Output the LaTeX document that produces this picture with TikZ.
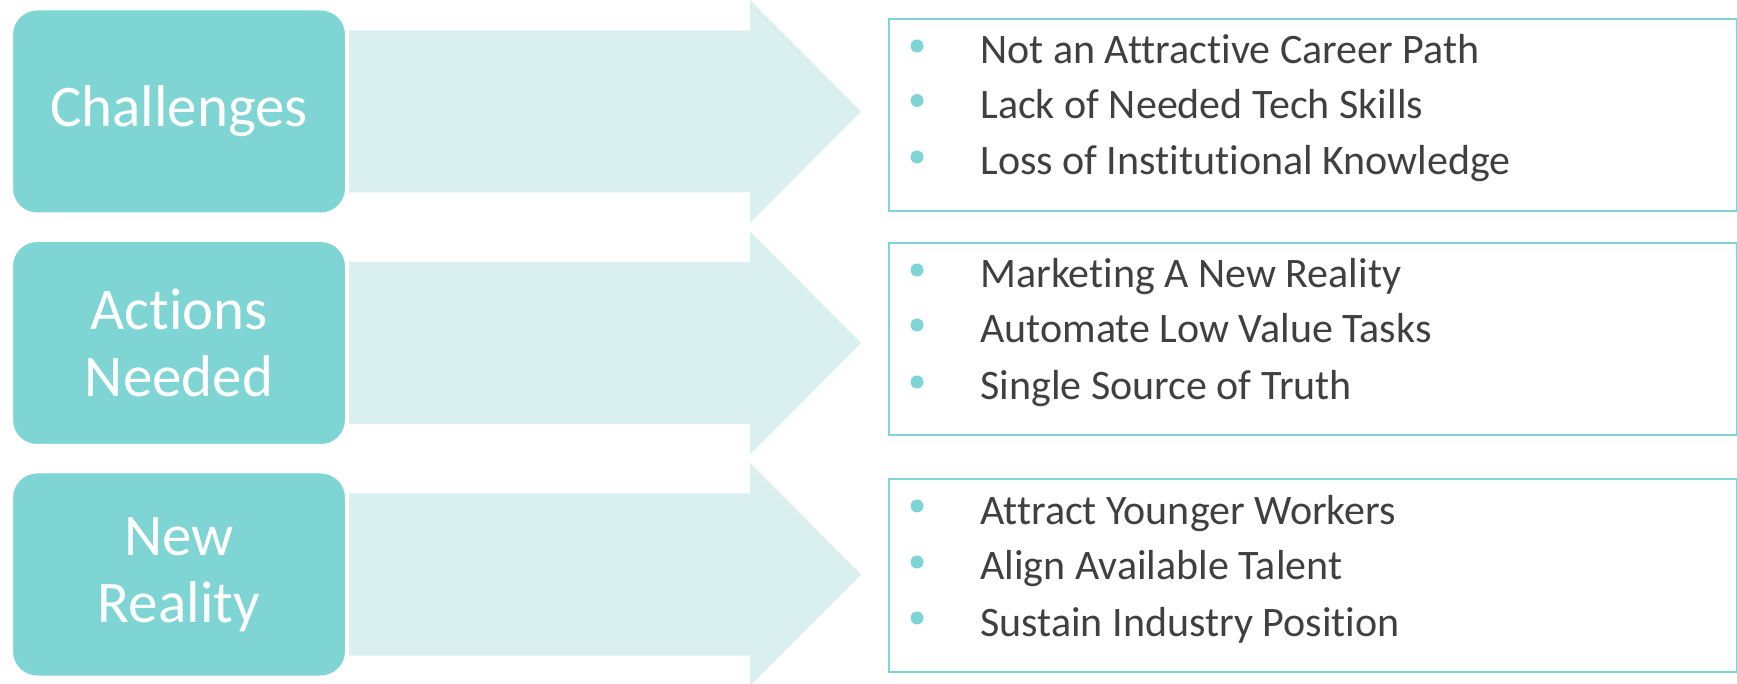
\documentclass[tikz,border=0pt]{standalone}
\usepackage{fontspec}
\setmainfont{Carlito}[RawFeature={-liga;-clig;-dlig;-rlig;-calt;-hlig}]
\definecolor{tealbox}{RGB}{127,212,212}
\definecolor{arrowfill}{RGB}{218,239,240}
\definecolor{itemtext}{RGB}{64,64,64}
\tikzset{
  catbox/.style={rectangle, rounded corners=12.5pt, fill=tealbox, draw=white, line width=1pt,
    minimum width=167pt, minimum height=102pt, text=white, align=center,
    font=\fontsize{29.5}{33.5}\selectfont},
  listbox/.style={rectangle, draw=tealbox, line width=1pt, minimum width=424pt,
    minimum height=96pt, anchor=west},
  itemnode/.style={anchor=base west, inner sep=0pt, text=itemtext,
    font=\fontsize{21}{25}\selectfont},
  bigarrow/.style={fill=arrowfill, draw=none},
  bulletdot/.style={circle, fill=tealbox, inner sep=0pt, minimum size=6.5pt}
}

\begin{document}
\begin{tikzpicture}[x=0.5pt,y=0.5pt,yscale=-1,xscale=1]
\useasboundingbox (0,0) rectangle (1737,684);

%Shape: Block Arrows
\foreach \c in {111.5,343,574.5}{
  \fill[bigarrow] (349,\c-81) -- (750,\c-81) -- (750,\c-111.5) -- (861,\c)
    -- (750,\c+111.5) -- (750,\c+81) -- (349,\c+81) -- cycle ;
}

%Shape: Rounded Rectangles
\node[catbox] (chal) at (179,111.5) {Challenges};
\node[catbox] (act) at (179,343) {Actions\\Needed};
\node[catbox] (newr) at (179,574.5) {New\\Reality};

%Shape: Rectangles
\node[listbox] (challist) at (888,115) {};
\node[listbox] (actlist) at (888,339) {};
\node[listbox] (newrlist) at (888,575.5) {};

% Bullets
\foreach \b in {64,118.5,175,288,343,400,524,580,636}{
  \node[bulletdot] at (917,\b-18) {};
}

% Text Node
\node[itemnode] (c1) at (980,64) {Not an Attractive Career Path};
\node[itemnode] (c2) at (980,118.5) {Lack of Needed Tech Skills};
\node[itemnode] (c3) at (980,175) {Loss of Institutional Knowledge};
% Text Node
\node[itemnode] (a1) at (980,288) {Marketing A New Reality};
\node[itemnode] (a2) at (980,343) {Automate Low Value Tasks};
\node[itemnode] (a3) at (980,400) {Single Source of Truth};
% Text Node
\node[itemnode] (n1) at (980,524) {Attract Younger Workers};
\node[itemnode] (n2) at (980,580) {Align Available Talent};
\node[itemnode] (n3) at (980,636) {Sustain Industry Position};

\end{tikzpicture}
\end{document}
